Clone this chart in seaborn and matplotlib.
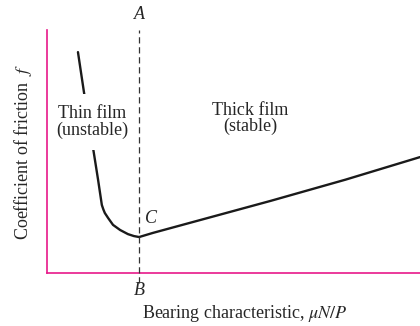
import numpy as np
import pandas as pd
import matplotlib.pyplot as plt
import seaborn as sns

# friction curve (arbitrary units 0..10)
bearing_char = [0.83, 0.99, 1.23, 1.37, 1.47, 1.51, 1.55, 1.64, 1.77, 1.96, 2.17, 2.33, 2.47,
                2.84, 4.30, 6.00, 8.00, 10.0]
friction = [9.09, 7.45, 5.19, 3.83, 2.80, 2.62, 2.47, 2.26, 1.98, 1.77, 1.60, 1.52, 1.48,
            1.65, 2.26, 2.97, 3.84, 4.77]
x_boundary = 2.47

data = pd.DataFrame({"x": bearing_char, "f": friction})

sns.set_style("white")
plt.rcParams['font.family'] = ['Liberation Serif', 'DejaVu Serif']
plt.rcParams['mathtext.fontset'] = 'stix'

fig, ax = plt.subplots(figsize=(4.2, 3.26), dpi=100)
fig.subplots_adjust(left=47/420, right=1.0, bottom=(326-273)/326, top=(326-30)/326)

sns.lineplot(data=data, x="x", y="f", sort=False, estimator=None,
             color="#1a1a1a", linewidth=1.7, ax=ax, zorder=1)

ax.plot([x_boundary, x_boundary], [-0.41, 10.0], color="#333333", linewidth=0.9,
        linestyle=(0, (5, 3)), clip_on=False, zorder=5)

ax.set_xlim(0, 10)
ax.set_ylim(0, 10)
ax.set_xticks([])
ax.set_yticks([])
sns.despine(ax=ax)
for s in ["left", "bottom"]:
    ax.spines[s].set_color("#e8198a")
    ax.spines[s].set_linewidth(1.2)
    ax.spines[s].set_zorder(4)

ax.text(x_boundary, 10.62, "A", ha="center", va="center", fontsize=13, style="italic")
ax.text(x_boundary, -0.70, "B", ha="center", va="center", fontsize=13, style="italic", clip_on=False)
ax.text(2.79, 2.26, "C", ha="center", va="center", fontsize=13, style="italic")

ax.text(1.21, 6.22, "Thin film\n(unstable)", ha="center", va="center", fontsize=13,
        linespacing=0.95, zorder=2,
        bbox=dict(facecolor="white", edgecolor="none", pad=8))
ax.text(5.44, 6.36, "Thick film\n(stable)", ha="center", va="center", fontsize=13,
        linespacing=0.95)

ax.set_xlabel(r"Bearing characteristic, $\mu N/P$", fontsize=13)
ax.set_ylabel(r"Coefficient of friction  $f$", fontsize=13)
ax.xaxis.set_label_coords(0.53, -0.125)
ax.yaxis.set_label_coords(-0.035, 0.5)

plt.savefig("out.png", dpi=100)
